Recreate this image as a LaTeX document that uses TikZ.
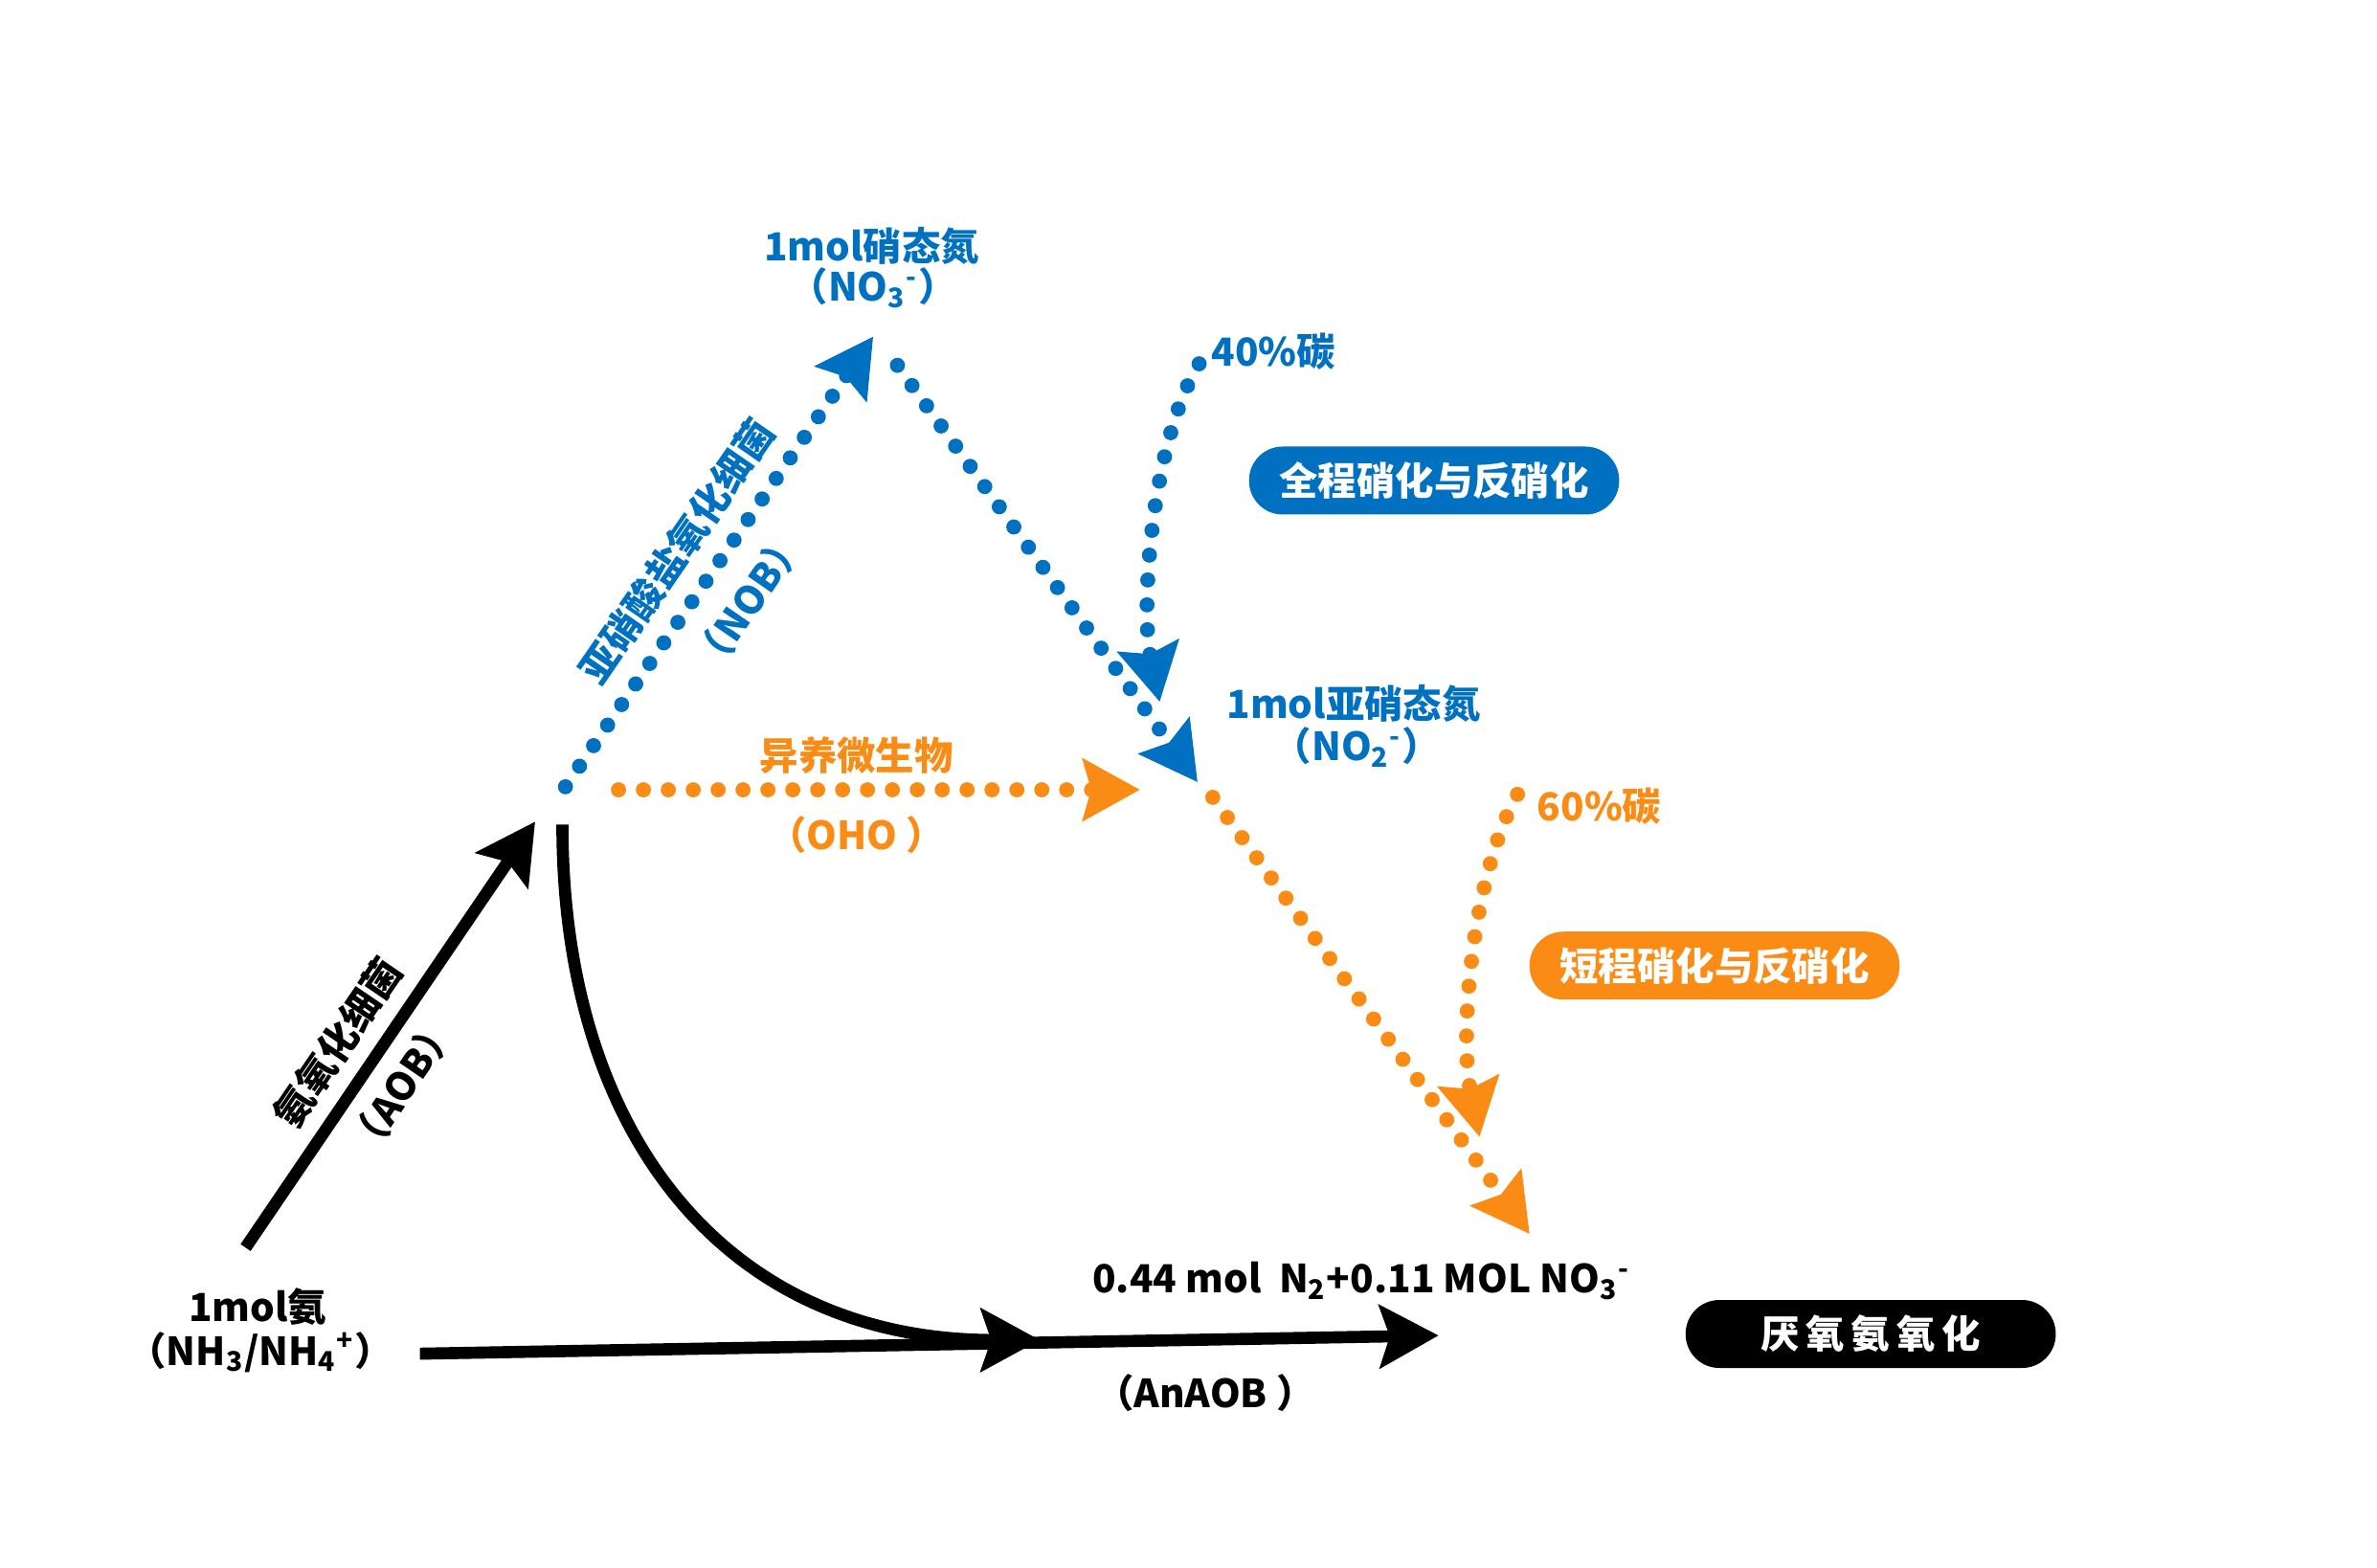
\documentclass[tikz,border=0pt]{standalone}
\usepackage{fontspec}
\setmainfont{Noto Sans CJK SC}
\usetikzlibrary{arrows.meta}
\definecolor{nobblue}{RGB}{0,112,192}
\definecolor{ohoorange}{RGB}{250,140,22}

\begin{document}
\begin{tikzpicture}[x=0.15835mm, y=-0.15835mm,
		lbl/.style={inner sep=0pt, font=\bfseries\fontsize{11.5}{13}\selectfont},
		pill/.style={lbl, text=white, rounded corners=10pt, minimum width=110pt, minimum height=20.2pt},
		dotline/.style={line width=4.5pt, line cap=round, dash pattern=on 0pt off 7.4pt, -{Stealth[length=16.9pt, width=18.2pt, inset=2.4pt]}},
		thickline/.style={line width=3.6pt, -{Stealth[length=17.5pt, width=18.6pt, inset=3pt]}}]
		\useasboundingbox (0,0) rectangle (1568,1034);

		\node[lbl, text=nobblue] (no3) at (575,162) {1mol硝态氮};
		\node[lbl, text=nobblue] (no3f) at (576,190) {（NO\textsubscript{3}\textsuperscript{-}）};
		\node[lbl, text=nobblue] (no2) at (893,464) {1mol亚硝态氮};
		\node[lbl, text=nobblue] (no2f) at (895,493) {（NO\textsubscript{2}\textsuperscript{-}）};
		\node[lbl, text=nobblue] (c40) at (840,232) {40\%碳};
		\node[lbl, text=ohoorange] (c60) at (1055,532) {60\%碳};
		\node[lbl, text=nobblue, rotate=55.4, align=center] (nob) at (470,380) {亚硝酸盐氧化细菌\\[13pt]（NOB）};
		\node[lbl, text=ohoorange] (oho) at (565,498) {异养微生物};
		\node[lbl, text=ohoorange] (ohof) at (565,551) {（OHO ）};
		\node[lbl, rotate=55.7, align=center] (aob) at (244,702) {氨氧化细菌\\[10pt]（AOB）};
		\node[lbl] (nh) at (170,862) {1mol氨};
		\node[lbl] (nhf) at (172,892) {（NH\textsubscript{3}/NH\textsubscript{4}\textsuperscript{+}）};
		\node[lbl] (prod) at (898,845) {0.44 mol~~N\textsubscript{2}+0.11 MOL NO\textsubscript{3}\textsuperscript{-}};
		\node[lbl] (anaf) at (795,919) {（AnAOB ）};

		\node[pill, fill=nobblue] (full) at (946,317) {全程硝化与反硝化};
		\node[pill, fill=ohoorange] (short) at (1131,637) {短程硝化与反硝化};
		\node[pill, fill=black] (anammox) at (1234,880) {厌\,氧\,氨\,氧\,化};

		\coordinate (aob-a) at (162,823);
		\coordinate (aob-b) at (353,542);
		\coordinate (nh-a) at (277,893);
		\coordinate (nh-b) at (949,881);
		\coordinate (ana-a) at (371,544);
		\coordinate (ana-b) at (686,884);
		\coordinate (nob-a) at (373,519);
		\coordinate (nob-b) at (576,222);
		\coordinate (no3-a) at (592,241);
		\coordinate (no3-b) at (790,516);
		\coordinate (c40-a) at (791,240);
		\coordinate (c40-b) at (765,463);
		\coordinate (oho-a) at (408,521);
		\coordinate (oho-b) at (752,521);
		\coordinate (no2-a) at (800,526);
		\coordinate (no2-b) at (1009,814);
		\coordinate (c60-a) at (1001,524);
		\coordinate (c60-b) at (976,750);

		\draw[thickline] (aob-a) -- (aob-b);
		\draw[thickline] (nh-a) -- (nh-b);
		\draw[thickline] (ana-a) .. controls (371,750) and (480,884) .. (ana-b);

		\draw[dotline, nobblue] (nob-a) -- (nob-b);
		\draw[dotline, nobblue] (no3-a) -- (no3-b);
		\draw[dotline, nobblue] (c40-a) .. controls (760,290) and (752,400) .. (c40-b);
		\draw[dotline, ohoorange] (oho-a) -- (oho-b);
		\draw[dotline, ohoorange] (no2-a) -- (no2-b);
		\draw[dotline, ohoorange] (c60-a) .. controls (972,575) and (962,680) .. (c60-b);
\end{tikzpicture}
\end{document}
